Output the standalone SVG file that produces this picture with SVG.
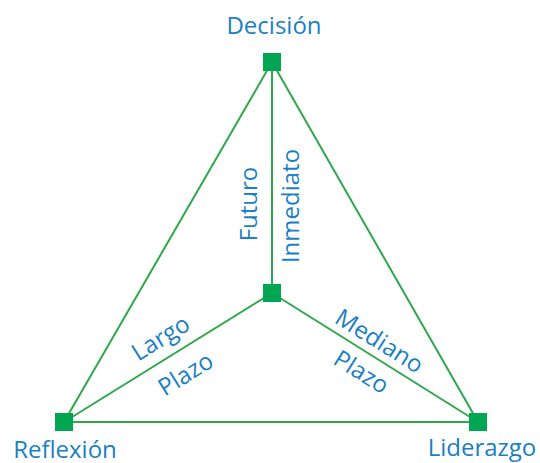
<svg xmlns="http://www.w3.org/2000/svg" width="540" height="463" viewBox="0 0 540 463">
<style>
.edge{stroke:#2ea84a;stroke-width:2;fill:none}
.sq{fill:#00a651}
.t{font-family:"Open Sans","Noto Sans",sans-serif;font-size:24px;fill:#1b7fc4;text-anchor:middle}
</style>
<rect width="540" height="463" fill="#ffffff"/>
<g id="connectors">
<line class="edge" x1="272" y1="62" x2="64" y2="422"/>
<line class="edge" x1="272" y1="62" x2="478" y2="422"/>
<line class="edge" x1="272" y1="62" x2="272" y2="293"/>
<line class="edge" x1="272" y1="293" x2="64" y2="422"/>
<line class="edge" x1="272" y1="293" x2="478" y2="422"/>
<line class="edge" x1="64" y1="422" x2="478" y2="422"/>
</g>
<g id="decision"><rect class="sq" x="263" y="53" width="18" height="18"/><text class="t" x="274" y="34">Decisión</text></g>
<g id="centro"><rect class="sq" x="263" y="284" width="18" height="18"/></g>
<g id="reflexion"><rect class="sq" x="55" y="413" width="18" height="18"/><text class="t" x="65" y="458">Reflexión</text></g>
<g id="liderazgo"><rect class="sq" x="469" y="413" width="18" height="18"/><text class="t" x="482" y="456">Liderazgo</text></g>
<g id="labels">
<text class="t" transform="translate(257,204) rotate(-90)">Futuro</text>
<text class="t" transform="translate(299,206) rotate(-90)">Inmediato</text>
<text class="t" transform="translate(165,345) rotate(-32)">Largo</text>
<text class="t" transform="translate(190,381) rotate(-32)">Plazo</text>
<text class="t" transform="translate(375,348) rotate(32)">Mediano</text>
<text class="t" transform="translate(357,379) rotate(32)">Plazo</text>
</g>
</svg>
